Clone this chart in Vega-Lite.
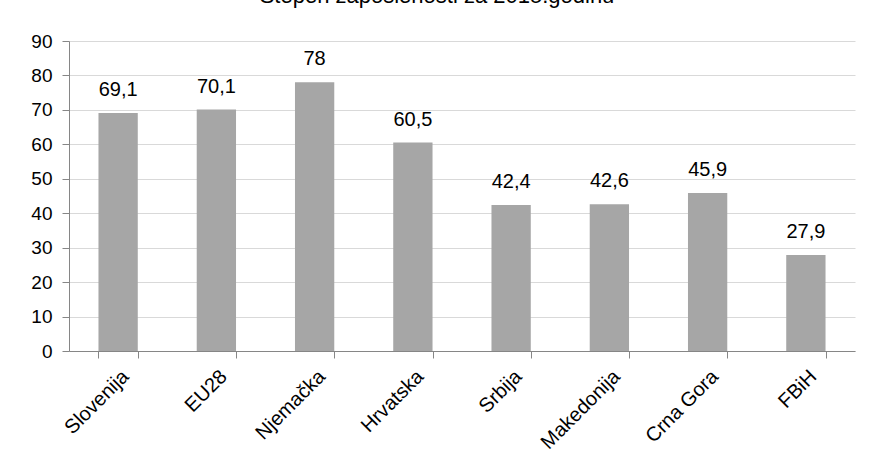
{
  "$schema": "https://vega.github.io/schema/vega-lite/v6.json",
  "autosize": {"type": "none"},
  "width": 786,
  "height": 310,
  "padding": {"left": 69, "top": 41, "right": 17, "bottom": 117},
  "background": "white",
  "title": {
    "text": "Stepen zaposlenosti za 2015.godinu",
    "font": "Liberation Sans",
    "fontSize": 22,
    "fontWeight": "normal",
    "color": "#000000",
    "baseline": "alphabetic",
    "offset": 7,
    "dx": -25
  },
  "data": {
    "values": [
      {"zemlja": "Slovenija", "vrijednost": 69.1, "oznaka": "69,1"},
      {"zemlja": "EU28", "vrijednost": 70.1, "oznaka": "70,1"},
      {"zemlja": "Njemačka", "vrijednost": 78, "oznaka": "78"},
      {"zemlja": "Hrvatska", "vrijednost": 60.5, "oznaka": "60,5"},
      {"zemlja": "Srbija", "vrijednost": 42.4, "oznaka": "42,4"},
      {"zemlja": "Makedonija", "vrijednost": 42.6, "oznaka": "42,6"},
      {"zemlja": "Crna Gora", "vrijednost": 45.9, "oznaka": "45,9"},
      {"zemlja": "FBiH", "vrijednost": 27.9, "oznaka": "27,9"}
    ]
  },
  "encoding": {
    "x": {
      "field": "zemlja",
      "type": "nominal",
      "sort": null,
      "title": null,
      "scale": {"paddingInner": 0.6, "paddingOuter": 0.3},
      "axis": {
        "labelAngle": -45,
        "labelFont": "Liberation Sans",
        "labelFontSize": 20,
        "labelColor": "#000000",
        "domainColor": "#868686",
        "tickColor": "#868686",
        "tickBand": "extent",
        "tickSize": 7,
        "labelPadding": 8,
        "grid": false
      }
    },
    "y": {
      "field": "vrijednost",
      "type": "quantitative",
      "title": null,
      "scale": {"domain": [0, 90]},
      "axis": {
        "values": [0, 10, 20, 30, 40, 50, 60, 70, 80, 90],
        "labelFont": "Liberation Sans",
        "labelFontSize": 19,
        "labelColor": "#000000",
        "labelPadding": 10,
        "domainColor": "#868686",
        "tickColor": "#868686",
        "tickSize": 7,
        "gridColor": "#d9d9d9",
        "gridWidth": 1
      }
    }
  },
  "layer": [
    {"mark": {"type": "bar", "color": "#a6a6a6"}},
    {
      "mark": {
        "type": "text",
        "font": "Liberation Sans",
        "fontSize": 20,
        "color": "#000000",
        "baseline": "middle",
        "dy": -23
      },
      "encoding": {"text": {"field": "oznaka"}}
    }
  ],
  "config": {"view": {"stroke": null}}
}
